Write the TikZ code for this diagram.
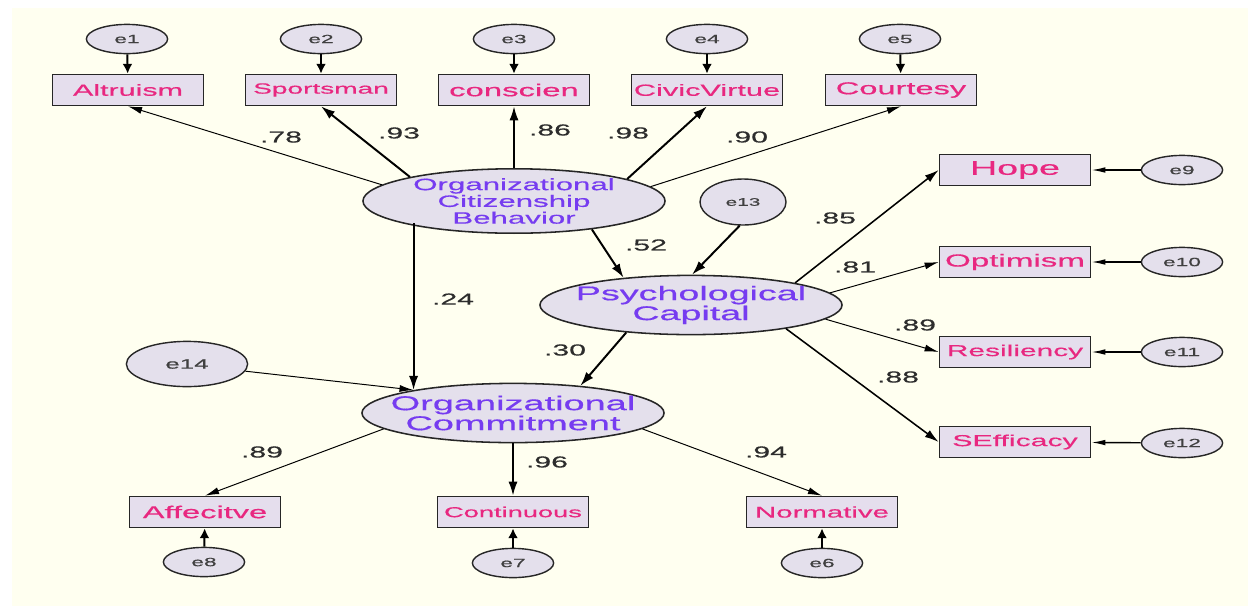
\documentclass[tikz,border=0pt]{standalone}
\usepackage{fontspec}
\newfontfamily\amosfont{Liberation Sans}[FakeStretch=1.9, FakeBold=0.5]
\usetikzlibrary{shapes.geometric}
\usetikzlibrary{arrows.meta}
\definecolor{cream}{RGB}{255,255,240}
\definecolor{boxfill}{RGB}{229,222,237}
\definecolor{latfill}{RGB}{228,224,236}
\definecolor{obscol}{RGB}{232,40,128}
\definecolor{latcol}{RGB}{118,60,240}
\definecolor{coefcol}{RGB}{45,45,45}
\newcommand{\amossize}[2]{\amosfont\fontsize{#1}{#2}\selectfont}

\begin{document}
\begin{tikzpicture}[x=0.025cm, y=-0.025cm,
        obs/.style={draw=black!85, line width=1pt, fill=boxfill, minimum width=3.78cm, minimum height=0.78cm, inner sep=0pt, text=obscol, font=\amossize{#1}{12}},
        obs/.default=11.4,
        err/.style={shape=ellipse, draw=black!85, line width=1pt, fill=latfill, minimum width=2.03cm, minimum height=0.73cm, inner sep=0pt, text=black!75, font=\amossize{#1}{10}},
        err/.default=8.5,
        lat/.style={shape=ellipse, draw=black!85, line width=1.1pt, fill=latfill, minimum width=7.55cm, minimum height=1.48cm, inner xsep=-0.6cm, inner ysep=0pt, align=center, text=latcol},
        coef/.style={text=coefcol, font=\amossize{11.3}{12}},
        thick path/.style={line width=1.4pt, -{Latex[length=10pt,width=6.5pt]}},
        thin path/.style={line width=0.7pt, -{Latex[length=10pt,width=5pt]}},
        err path/.style={line width=1.4pt, -{Latex[length=7pt,width=7pt]}},
        side path/.style={line width=1pt, -{Latex[length=10pt,width=4pt]}}]
        \useasboundingbox (0,0) rectangle (1248,606);
        \fill[white] (0,0) rectangle (1248,606);
        \fill[cream] (12,8) rectangle (1248,606);

        \node[err] (e1) at (127,39) {e1};
        \node[err] (e2) at (321,39) {e2};
        \node[err] (e3) at (514,39) {e3};
        \node[err] (e4) at (707,39) {e4};
        \node[err] (e5) at (900,39) {e5};

        \node[obs] (Altruism) at (128,90) {Altruism};
        \node[obs=10.5] (Sportsman) at (321,90) {Sportsman};
        \node[obs=12.3] (conscien) at (514,90) {conscien};
        \node[obs=11.5] (CivicVirtue) at (707,90) {CivicVirtue};
        \node[obs=12.2] (Courtesy) at (901,90) {Courtesy};

        \node[lat, font=\amossize{11.7}{10}] (OCB) at (514,201) {Organizational\\Citizenship\\Behavior};
        \node[err=7.8, minimum width=2.15cm, minimum height=1.15cm] (e13) at (743,202) {e13};
        \node[lat, font=\amossize{14.1}{12}] (PsyCap) at (691,305) {Psychological\\Capital};
        \node[lat, font=\amossize{14.2}{11.5}] (OC) at (513,413) {Organizational\\Commitment};
        \node[err=9.7, minimum width=3.03cm, minimum height=1.13cm] (e14) at (187,364) {e14};

        \node[obs=14.1] (Hope) at (1015,170) {Hope};
        \node[obs=12.4] (Optimism) at (1015,262) {Optimism};
        \node[obs=11.2] (Resiliency) at (1015,352) {Resiliency};
        \node[obs=11.3] (SEfficacy) at (1015,442) {SEfficacy};
        \node[err] (e9) at (1182,170) {e9};
        \node[err] (e10) at (1182,262) {e10};
        \node[err] (e11) at (1182,352) {e11};
        \node[err] (e12) at (1182,443) {e12};

        \node[obs=12.2] (Affecitve) at (205,512) {Affecitve};
        \node[obs=10.2] (Continuous) at (513,512) {Continuous};
        \node[obs=11] (Normative) at (822,512) {Normative};
        \node[err] (e8) at (204,562) {e8};
        \node[err] (e7) at (513,563) {e7};
        \node[err] (e6) at (822,563) {e6};

        \node[coef] (c78) at (281,137) {.78};
        \node[coef] (c93) at (399,133) {.93};
        \node[coef] (c86) at (550,130) {.86};
        \node[coef] (c98) at (628,133) {.98};
        \node[coef] (c90) at (747,137) {.90};
        \node[coef] (c85) at (835,218) {.85};
        \node[coef] (c52) at (646,245) {.52};
        \node[coef] (c81) at (855,267) {.81};
        \node[coef] (c89r) at (915,325) {.89};
        \node[coef] (c88) at (898,377) {.88};
        \node[coef] (c24) at (453,299) {.24};
        \node[coef] (c30) at (565,350) {.30};
        \node[coef] (c89a) at (262,452) {.89};
        \node[coef] (c96) at (547,462) {.96};
        \node[coef] (c94) at (766,452) {.94};

        \draw[err path] (e1) -- (Altruism);
        \draw[err path] (e2) -- (Sportsman);
        \draw[err path] (e3) -- (conscien);
        \draw[err path] (e4) -- (CivicVirtue);
        \draw[err path] (e5) -- (Courtesy);

        \draw[thin path] (OCB.173) -- (Altruism.south);
        \draw[thick path] (OCB.167) -- (Sportsman.south);
        \draw[thick path] (OCB.north) -- (conscien.south);
        \draw[thick path] (OCB.11.5) -- (CivicVirtue.south);
        \draw[thin path] (OCB.6.4) -- (Courtesy.south);

        \draw[thick path, shorten <=0.55cm] (OC.167 |- OCB.center) -- (OC.167);
        \draw[thick path] (OCB.-20) -- (PsyCap.158);
        \draw[thick path] (e13.262) -- (PsyCap.88);
        \draw[thick path] (PsyCap.203) -- (OC.22);
        \draw[thin path] (e14.-7) -- (OC.167);

        \draw[line width=1.1pt, -{Latex[length=10pt,width=6pt]}] (PsyCap.12) -- (Hope.west);
        \draw[thin path] (PsyCap.5) -- (Optimism.west);
        \draw[thin path] (PsyCap.-6) -- (Resiliency.west);
        \draw[line width=1.1pt, -{Latex[length=10pt,width=6pt]}] (PsyCap.-14) -- (SEfficacy.west);
        \draw[side path] (e9) -- (Hope);
        \draw[side path] (e10) -- (Optimism);
        \draw[side path] (e11) -- (Resiliency);
        \draw[side path] (e12) -- (SEfficacy);

        \draw[thin path] (OC.187) -- (Affecitve.north);
        \draw[thick path] (OC.south) -- (Continuous.north);
        \draw[thin path] (OC.-7) -- (Normative.north);
        \draw[err path] (e8) -- (Affecitve);
        \draw[err path] (e7) -- (Continuous);
        \draw[err path] (e6) -- (Normative);
    \end{tikzpicture}
\end{document}
